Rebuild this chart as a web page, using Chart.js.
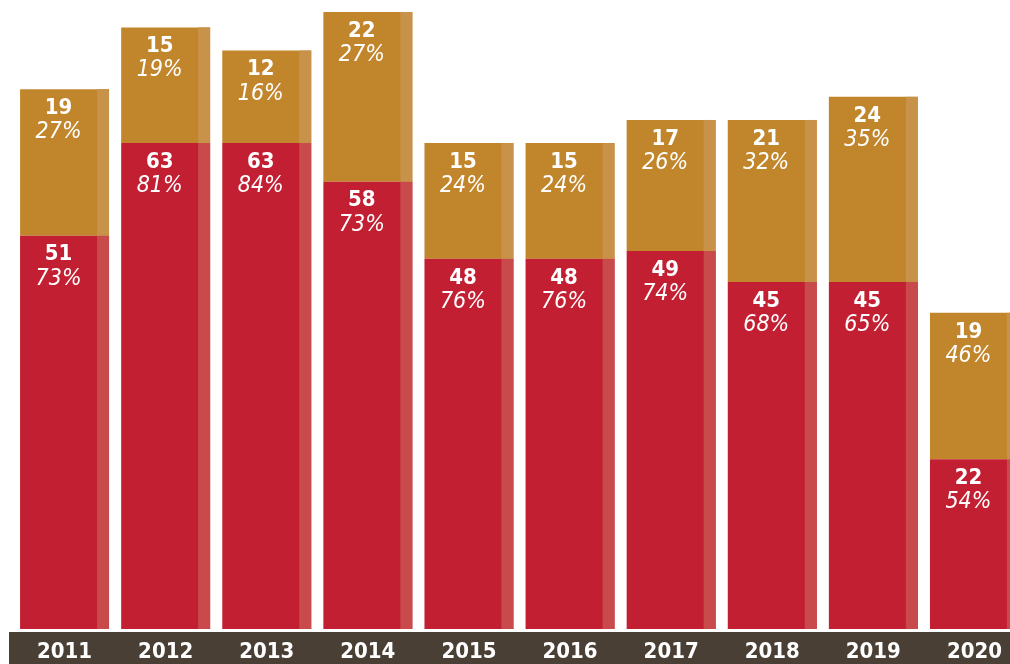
<!DOCTYPE html>
<html>
<head>
<meta charset="utf-8">
<script src="https://cdn.jsdelivr.net/npm/chart.js@4/dist/chart.umd.min.js"></script>
<style>
    html, body { margin: 0; padding: 0; background: #fff; overflow: hidden; }
    #wrap { position: relative; width: 1025px; height: 664px; }
</style>
</head>
<body>
<div id="wrap"><canvas id="barChart"></canvas></div>
<script>
// Datos del gráfico
const years = ['2011', '2012', '2013', '2014', '2015', '2016', '2017', '2018', '2019', '2020'];
const redValues = [51, 63, 63, 58, 48, 48, 49, 45, 45, 22];
const goldValues = [19, 15, 12, 22, 15, 15, 17, 21, 24, 19];
const redPercents = [73, 81, 84, 73, 76, 76, 74, 68, 65, 54];
const goldPercents = [27, 19, 16, 27, 24, 24, 26, 32, 35, 46];

const FONT = '"Liberation Sans Narrow", "DejaVu Sans Condensed", "Liberation Sans", sans-serif';
const STRIP = 12;

/**
 * Banda oscura bajo el eje X
 */
const bandPlugin = {
    id: 'band',
    beforeDraw(chart) {
        const ctx = chart.ctx;
        ctx.save();
        ctx.fillStyle = '#4a3f35';
        ctx.fillRect(9, 632, chart.width, chart.height - 632);
        ctx.restore();
    }
};

/**
 * Franja clara a la derecha de cada barra y etiquetas de valores
 */
const labelPlugin = {
    id: 'barLabels',
    afterDatasetsDraw(chart) {
        const ctx = chart.ctx;
        const percents = [redPercents, goldPercents];
        ctx.save();
        chart.data.datasets.forEach((ds, di) => {
            const meta = chart.getDatasetMeta(di);
            meta.data.forEach((bar, i) => {
                const right = bar.x + bar.width / 2;
                const top = Math.min(bar.y, bar.base);
                const h = Math.abs(bar.base - bar.y);
                ctx.fillStyle = ds.stripColor;
                ctx.fillRect(right - STRIP, top, STRIP, h);

                const cx = bar.x - STRIP / 2;
                ctx.fillStyle = '#ffffff';
                ctx.textAlign = 'center';
                ctx.textBaseline = 'middle';
                ctx.font = 'bold 22px ' + FONT;
                ctx.fillText(String(ds.data[i]), cx, top + 19);
                ctx.font = 'italic 23px ' + FONT;
                ctx.fillText(percents[di][i] + '%', cx, top + 43);
            });
        });
        ctx.restore();
    }
};

const ctx = document.getElementById('barChart').getContext('2d');
new Chart(ctx, {
    type: 'bar',
    data: {
        labels: years,
        datasets: [
            {
                data: redValues,
                backgroundColor: '#c21f33',
                stripColor: '#c84a4a',
                barPercentage: 0.88,
                categoryPercentage: 1.0
            },
            {
                data: goldValues,
                backgroundColor: '#c1862c',
                stripColor: '#c8924a',
                barPercentage: 0.88,
                categoryPercentage: 1.0
            }
        ]
    },
    options: {
        responsive: true,
        maintainAspectRatio: false,
        animation: false,
        layout: {
            padding: { top: 12, left: 14, right: 0, bottom: 0 }
        },
        scales: {
            x: {
                stacked: true,
                grid: { display: false, drawTicks: false },
                border: { display: false },
                ticks: {
                    color: '#ffffff',
                    padding: 10,
                    font: { family: FONT, size: 22, weight: 'bold' }
                },
                afterFit(scale) {
                    scale.height = 35;
                }
            },
            y: {
                stacked: true,
                display: false,
                min: 0,
                max: 80
            }
        },
        plugins: {
            legend: { display: false },
            tooltip: { enabled: false }
        }
    },
    plugins: [bandPlugin, labelPlugin]
});
</script>
</body>
</html>
